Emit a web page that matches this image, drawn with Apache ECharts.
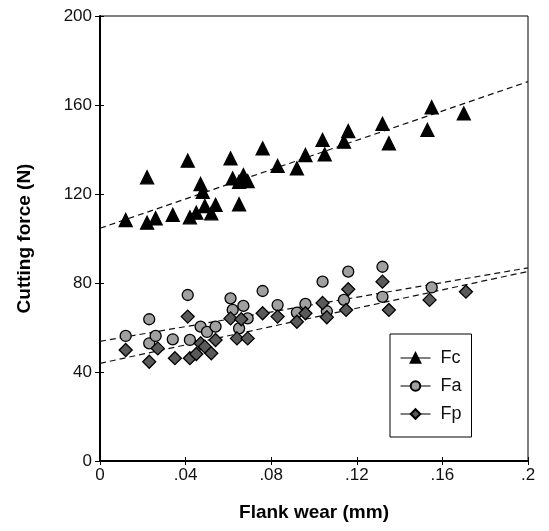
<!DOCTYPE html>
<html><head><meta charset="utf-8">
<script src="https://cdn.jsdelivr.net/npm/echarts@6/dist/echarts.min.js"></script>
<style>html,body{margin:0;padding:0;background:#fff}#c{width:549px;height:531px}</style>
</head><body><div id="c"></div>
<script>
var fcX = [0.012,0.022,0.022,0.026,0.034,0.041,0.042,0.045,0.047,0.048,0.049,0.052,0.054,0.061,0.062,0.065,0.067,0.069,0.065,0.076,0.083,0.092,0.096,0.104,0.105,0.114,0.116,0.132,0.135,0.153,0.155,0.170];
var fcY = [108.3,127.5,107.1,109.1,110.6,135,109.5,111.6,124.5,121,114.6,111.3,115.1,136,127,125.5,128.5,125.8,115.4,140.5,132.6,131.5,137.5,144.3,137.8,143.5,148.3,151.5,142.8,148.8,159,156.2];
var faX = [0.012,0.023,0.023,0.026,0.034,0.041,0.042,0.047,0.050,0.054,0.061,0.062,0.067,0.065,0.069,0.076,0.083,0.092,0.096,0.104,0.106,0.114,0.116,0.132,0.132,0.155];
var faY = [56.2,63.7,52.9,56.2,54.7,74.6,54.4,60.4,58,60.4,73.1,67.9,69.7,59.6,64.1,76.4,70.1,66.7,70.6,80.6,67.3,72.4,85.1,87.3,73.8,78];
var fpX = [0.012,0.023,0.027,0.035,0.041,0.042,0.045,0.047,0.049,0.052,0.054,0.061,0.064,0.066,0.069,0.076,0.083,0.092,0.096,0.104,0.106,0.115,0.116,0.132,0.135,0.154,0.171];
var fpY = [49.9,44.6,50.6,46.2,64.9,46.2,48.1,52.9,51.4,48.4,54.4,64.1,55.1,63.7,55.1,66.4,64.9,62.6,66.4,71,64.6,67.9,77.2,80.6,67.9,72.4,76.1];
var fitX = [0, 0.2];
var fcFit = [104.6, 170.5];
var faFit = [53.8, 86.8];
var fpFit = [43.9, 85.2];
var seriesNames = ['Fc','Fa','Fp'];
var xTicks = {min:0, max:0.2, interval:0.04};
var yTicks = {min:0, max:200, interval:40};

function pairs(xs, ys){ return xs.map(function(x,i){ return [x, ys[i]]; }); }
function xFmt(v){ if (v === 0) return '0'; return String(+v.toFixed(2)).replace(/^0/, ''); }

var chart = echarts.init(document.getElementById('c'), null, {renderer:'canvas'});
var fnt = 'Liberation Sans, Arial, sans-serif';
function dataSeries(name, xs, ys, symbol, size, fill){
  return {
    name: name, type: 'line', data: pairs(xs, ys), symbol: symbol, symbolSize: size,
    showSymbol: true, lineStyle: {opacity: 0, width: 0},
    itemStyle: {color: fill, borderColor: '#000', borderWidth: 1.3, opacity: 1},
    emphasis: {disabled: true}, z: 3, animation: false
  };
}
function fitSeries(ys){
  return {
    type: 'line', data: pairs(fitX, ys), symbol: 'none', silent: true,
    lineStyle: {color: '#111', width: 1.2, type: [6, 4]}, z: 2, animation: false
  };
}
chart.setOption({
  animation: false,
  grid: {left: 100, right: 21, top: 16, bottom: 70, show: true, borderColor: '#000', borderWidth: 1},
  legend: {
    orient: 'vertical', left: 390, top: 334,
    data: seriesNames,
    padding: [15, 10, 14, 10], itemGap: 10, itemWidth: 30, itemHeight: 12,
    borderColor: '#000', borderWidth: 1, backgroundColor: '#fff',
    lineStyle: {color: '#000', width: 1, opacity: 1},
    textStyle: {fontFamily: fnt, fontSize: 18, color: '#111', padding: [0,0,0,5]},
    selectedMode: false
  },
  xAxis: [{
    type: 'value', min: xTicks.min, max: xTicks.max, interval: xTicks.interval,
    name: 'Flank wear (mm)', nameLocation: 'middle', nameGap: 42,
    nameTextStyle: {fontFamily: fnt, fontSize: 19, fontWeight: 'bold', color: '#000'},
    axisLine: {show: true, onZero: false, lineStyle: {color: '#000', width: 2}},
    axisTick: {show: true, inside: false, length: 4, lineStyle: {color: '#000', width: 1}},
    axisLabel: {formatter: xFmt, fontFamily: fnt, fontSize: 17, color: '#111', margin: 6},
    splitLine: {show: false}
  }, {
    type: 'value', min: xTicks.min, max: xTicks.max, interval: xTicks.interval, position: 'bottom',
    axisLine: {show: false}, axisLabel: {show: false}, splitLine: {show: false},
    axisTick: {show: true, inside: true, length: 4, lineStyle: {color: '#000', width: 1}}
  }],
  yAxis: [{
    type: 'value', min: yTicks.min, max: yTicks.max, interval: yTicks.interval,
    name: 'Cutting force (N)', nameLocation: 'middle', nameGap: 66, nameRotate: 90,
    nameTextStyle: {fontFamily: fnt, fontSize: 19, fontWeight: 'bold', color: '#000'},
    axisLine: {show: true, onZero: false, lineStyle: {color: '#000', width: 2}},
    axisTick: {show: true, inside: false, length: 5, lineStyle: {color: '#000', width: 1}},
    axisLabel: {fontFamily: fnt, fontSize: 17, color: '#111', margin: 8},
    splitLine: {show: false}
  }, {
    type: 'value', min: yTicks.min, max: yTicks.max, interval: yTicks.interval, position: 'left',
    axisLine: {show: false}, axisLabel: {show: false}, splitLine: {show: false},
    axisTick: {show: true, inside: true, length: 4, lineStyle: {color: '#000', width: 1}}
  }],
  series: [
    dataSeries('Fc', fcX, fcY, 'triangle', 13, '#000'),
    dataSeries('Fa', faX, faY, 'circle', 11, '#a0a0a0'),
    dataSeries('Fp', fpX, fpY, 'diamond', 13, '#5a5a5a'),
    fitSeries(fcFit), fitSeries(faFit), fitSeries(fpFit)
  ]
});
</script></body></html>
